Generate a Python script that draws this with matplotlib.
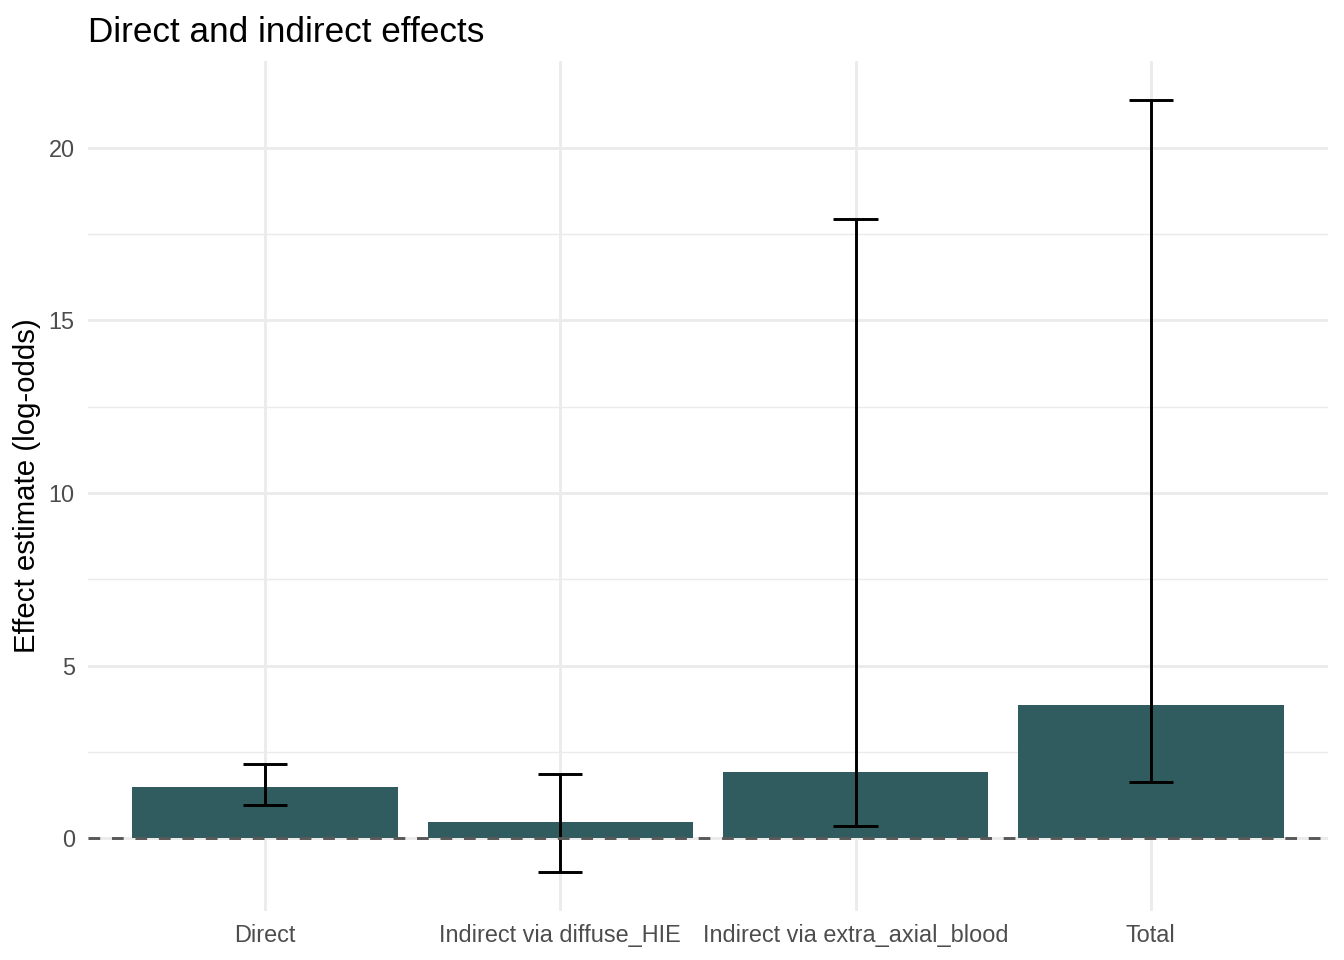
import matplotlib
matplotlib.use("Agg")
import numpy as np
import matplotlib.pyplot as plt
from matplotlib.ticker import MultipleLocator, FixedLocator

plt.rcParams['font.family'] = ['Liberation Sans', 'DejaVu Sans']

effects = ["Direct", "Indirect via diffuse_HIE", "Indirect via extra_axial_blood", "Total"]
estimate = [1.49, 0.46, 1.91, 3.86]
ci_low = [0.95, -0.99, 0.34, 1.62]
ci_high = [2.14, 1.86, 17.94, 21.39]

bar_col = "#305B5F"
grid_col = "#EBEBEB"

fig = plt.figure(figsize=(7, 5), dpi=192)
ax = fig.add_axes([0.0655, 0.051, 0.988 - 0.0655, 0.9365 - 0.051])

x = np.arange(len(effects))
est = np.array(estimate)
lo = np.array(ci_low)
hi = np.array(ci_high)

ax.bar(x, est, width=0.9, color=bar_col, zorder=2)

# error bars drawn as segments + caps, like geom_errorbar(width = 0.15)
ax.vlines(x, lo, hi, color="black", linewidth=1.1, zorder=3)
ax.hlines(lo, x - 0.075, x + 0.075, color="black", linewidth=1.1, zorder=3)
ax.hlines(hi, x - 0.075, x + 0.075, color="black", linewidth=1.1, zorder=3)

ax.axhline(0, color="#595959", linewidth=1.1, linestyle=(0, (4, 4)), zorder=4)

ymin = lo.min()
ymax = hi.max()
pad = (ymax - ymin) * 0.05
ax.set_ylim(ymin - pad, ymax + pad)
ax.set_xlim(-0.6, len(effects) - 1 + 0.6)

ax.yaxis.set_major_locator(MultipleLocator(5))
ax.yaxis.set_minor_locator(FixedLocator([2.5, 7.5, 12.5, 17.5]))
ax.set_xticks(x)
ax.set_xticklabels(effects)

ax.grid(True, which="major", color=grid_col, linewidth=1.07, zorder=0)
ax.grid(True, which="minor", axis="y", color=grid_col, linewidth=0.53, zorder=0)
ax.set_axisbelow(True)

for s in ax.spines.values():
    s.set_visible(False)
ax.tick_params(axis="both", which="both", length=0, labelsize=8.8, labelcolor="#4D4D4D")
ax.tick_params(axis="x", pad=5)
ax.tick_params(axis="y", pad=5)

ax.set_ylabel("Effect estimate (log-odds)", fontsize=11, color="black", labelpad=3)
ax.set_title("Direct and indirect effects", fontsize=13.2, loc="left", color="black", pad=7)

fig.savefig("out.png", dpi=192)
